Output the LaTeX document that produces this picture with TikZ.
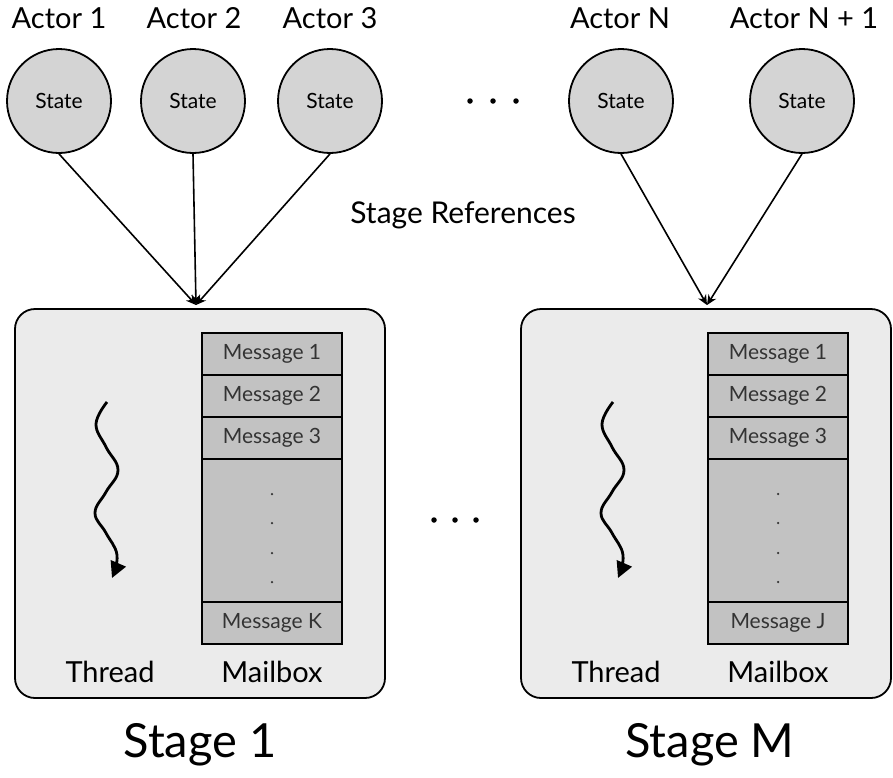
\documentclass[tikz,border=0pt]{standalone}
\usepackage{fontspec}
\setmainfont{Lato}
\usetikzlibrary{arrows.meta}
\definecolor{circfill}{HTML}{D4D4D4}
\definecolor{stagefill}{HTML}{EBEBEB}
\definecolor{mailfill}{HTML}{C2C2C2}
\definecolor{msgtext}{HTML}{333333}
\begin{document}
\begin{tikzpicture}[x=1pt,y=-1pt,
  actor/.style={circle,draw,line width=1.8pt,fill=circfill,minimum size=104pt,inner sep=0pt,font=\fontsize{21}{24}\selectfont},
  label/.style={font=\fontsize{29}{33}\selectfont,inner sep=0pt},
  biglabel/.style={font=\fontsize{47}{54}\selectfont,inner sep=0pt},
  stagebox/.style={draw,line width=1.8pt,rounded corners=20pt,fill=stagefill,minimum width=370pt,minimum height=389pt,inner sep=0pt},
  msg/.style={draw,line width=2pt,fill=mailfill,minimum width=140pt,minimum height=42pt,inner sep=0pt,text=msgtext,font=\fontsize{21}{24}\selectfont},
  gap/.style={draw,line width=2pt,fill=mailfill,minimum width=140pt,minimum height=143pt,inner sep=0pt},
  ref/.style={-{Stealth[length=10pt,width=9pt]},line width=1.6pt},
  wiggle/.style={line width=2.8pt,-{Triangle[length=16pt,width=16pt]}},
  dotsym/.style={circle,fill=black,minimum size=5.5pt,inner sep=0pt},
  smalldot/.style={circle,fill=msgtext,minimum size=2.5pt,inner sep=0pt}]
\useasboundingbox (0,0) rectangle (893,777);

% actor titles
\node[label] (l1) at (59,18) {Actor 1};
\node[label] (l2) at (194,18) {Actor 2};
\node[label] (l3) at (330,18) {Actor 3};
\node[label] (lN) at (620,18) {Actor N};
\node[label] (lN1) at (804,18) {Actor N + 1};

% actors
\node[actor] (a1) at (59,101) {State};
\node[actor] (a2) at (193,101) {State};
\node[actor] (a3) at (330,101) {State};
\node[actor] (aN) at (621,101) {State};
\node[actor] (aN1) at (802,101) {State};

% dots between actors
\node[dotsym] (d1) at (470,101) {};
\node[dotsym] (d2) at (493,101) {};
\node[dotsym] (d3) at (516,101) {};

\node[font=\fontsize{30}{34}\selectfont,inner sep=0pt] (sr) at (463,215) {Stage References};

% stages
\node[stagebox] (s1) at (200,503.5) {};
\node[stagebox] (sM) at (706,503.5) {};

\coordinate (t1) at (196,305);
\coordinate (tM) at (707,305);
\draw[ref] (a1.south) -- (t1);
\draw[ref] (a2.south) -- (t1);
\draw[ref] (a3.south) -- (t1);
\draw[ref] (aN.south) -- (tM);
\draw[ref] (aN1.south) -- (tM);

% mailbox 1
\node[msg] (m11) at (272,354) {Message 1};
\node[msg] (m12) at (272,396) {Message 2};
\node[msg] (m13) at (272,438) {Message 3};
\node[gap] (m1g) at (272,530.5) {};
\node[msg] (m1k) at (272,623) {Message K};
\foreach \y in {494,523,553,582} \node[smalldot] at (272,\y) {};

% mailbox M
\node[msg] (mM1) at (778,354) {Message 1};
\node[msg] (mM2) at (778,396) {Message 2};
\node[msg] (mM3) at (778,438) {Message 3};
\node[gap] (mMg) at (778,530.5) {};
\node[msg] (mMj) at (778,623) {Message J};
\foreach \y in {494,523,553,582} \node[smalldot] at (778,\y) {};

% threads
\draw[wiggle] plot[smooth,tension=0.7] coordinates {(107,402)(96,424)(106,447)(118,470)(106,492)(95,513)(106,533)(117,555)(112,578)};
\draw[wiggle] plot[smooth,tension=0.7] coordinates {(613,402)(602,424)(612,447)(624,470)(612,492)(601,513)(612,533)(623,555)(618,578)};

% labels
\node[label] (th1) at (110,672) {Thread};
\node[label] (mb1) at (272,672) {Mailbox};
\node[label] (thM) at (616,672) {Thread};
\node[label] (mbM) at (778,672) {Mailbox};

% dots between stages
\node[dotsym] (e1) at (434,520) {};
\node[dotsym] (e2) at (455,520) {};
\node[dotsym] (e3) at (476,520) {};

\node[biglabel] (st1) at (200,745) {Stage 1};
\node[biglabel] (stM) at (710,745) {Stage M};
\end{tikzpicture}
\end{document}
